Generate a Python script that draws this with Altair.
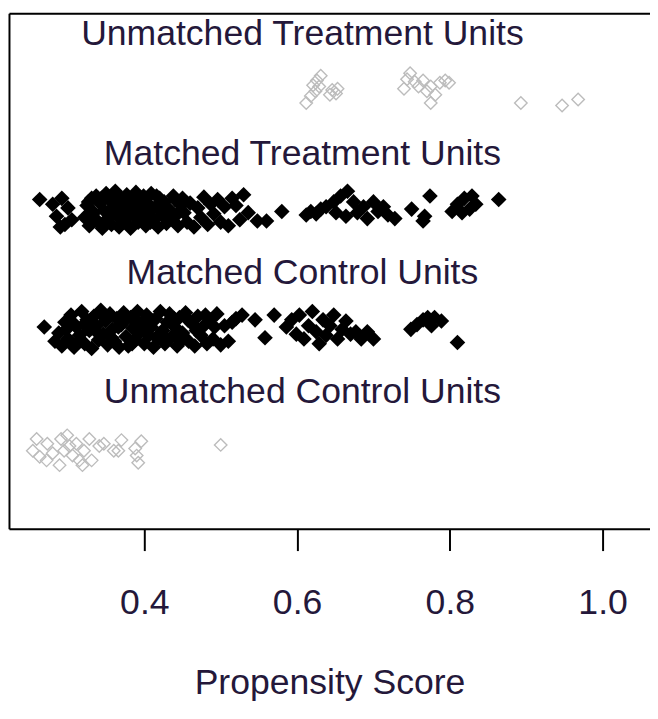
import altair as alt
import pandas as pd

# ---- data (propensity score, vertical jitter) ----
ut_ps = [0.631, 0.626, 0.629, 0.624, 0.618, 0.612, 0.646, 0.651, 0.653, 0.643, 0.621,
         0.748, 0.754, 0.740, 0.765, 0.775, 0.787, 0.794, 0.799, 0.781, 0.775, 0.770, 0.759, 0.744,
         0.893, 0.947, 0.968]
ut_jit = [0.13, 0.09, 0.04, 0.00, -0.04, -0.10, 0.01, -0.02, 0.02, -0.03, 0.05,
          0.15, 0.08, 0.02, 0.09, 0.04, 0.07, 0.09, 0.07, -0.03, -0.10, 0.00, 0.04, 0.10,
          -0.10, -0.12, -0.07]

mt_ps = [0.263, 0.280, 0.285, 0.292, 0.296, 0.300, 0.305, 0.290,
         0.322, 0.325, 0.328, 0.331, 0.334, 0.337, 0.340, 0.342, 0.345, 0.347,
         0.350, 0.352, 0.355, 0.357, 0.360, 0.362, 0.364, 0.367, 0.369, 0.372,
         0.374, 0.377, 0.379, 0.382, 0.384, 0.387, 0.389, 0.392, 0.394, 0.397,
         0.399, 0.402, 0.404, 0.407, 0.409, 0.412, 0.415, 0.418, 0.420, 0.423,
         0.426, 0.429, 0.432, 0.436, 0.440, 0.444, 0.448, 0.452,
         0.327, 0.336, 0.344, 0.353, 0.359, 0.366, 0.371, 0.378, 0.386, 0.393,
         0.401, 0.408, 0.416, 0.422, 0.428, 0.438, 0.442, 0.450,
         0.456, 0.460, 0.465, 0.470, 0.474, 0.478, 0.483, 0.487, 0.491, 0.496,
         0.500, 0.505, 0.510, 0.515, 0.520, 0.525, 0.530, 0.536, 0.548,
         0.560, 0.580,
         0.612, 0.625, 0.631, 0.638, 0.648, 0.657, 0.666, 0.674, 0.679, 0.687,
         0.692, 0.700, 0.706, 0.713, 0.719, 0.728, 0.651, 0.664, 0.618,
         0.750, 0.765, 0.774, 0.767,
         0.803, 0.810, 0.819, 0.829, 0.834, 0.816, 0.826, 0.864]
mt_jit = [0.09, 0.05, -0.05, 0.10, -0.12, 0.02, -0.08, -0.14,
          -0.06, 0.04, -0.13, 0.10, -0.02, 0.12, -0.10, 0.06, -0.15, 0.00,
          0.14, -0.07, 0.08, -0.12, 0.03, 0.16, -0.04, -0.14, 0.10, 0.00,
          -0.09, 0.13, 0.05, -0.15, -0.03, 0.09, 0.15, -0.10, 0.02, -0.06,
          0.12, -0.13, 0.06, -0.01, 0.14, -0.08, 0.03, -0.14, 0.10, -0.04,
          0.07, -0.11, 0.01, -0.07, 0.09, -0.13, 0.04, -0.02,
          0.07, -0.08, 0.10, -0.02, 0.11, 0.04, -0.08, -0.05, 0.03, 0.08,
          0.01, -0.10, 0.12, 0.04, -0.03, 0.12, -0.04, 0.10,
          -0.10, 0.06, -0.14, 0.02, -0.06, 0.11, -0.12, 0.05, -0.03, 0.09,
          -0.10, 0.03, -0.13, 0.10, 0.04, -0.08, 0.13, -0.02, -0.09,
          -0.09, -0.01,
          -0.04, -0.03, 0.01, 0.03, 0.07, 0.12, 0.16, 0.07, -0.02, 0.03,
          -0.07, 0.07, -0.01, 0.03, -0.04, -0.07, -0.02, -0.05, -0.01,
          0.01, -0.09, 0.12, -0.05,
          -0.01, 0.05, 0.10, 0.12, 0.05, -0.02, 0.01, 0.09]

mc_ps = [0.269,
         0.283, 0.288, 0.292, 0.296, 0.300, 0.304, 0.308, 0.311, 0.315, 0.318,
         0.322, 0.325, 0.328, 0.331, 0.334, 0.337, 0.340, 0.343, 0.346, 0.349,
         0.352, 0.355, 0.358, 0.361, 0.364, 0.367, 0.370, 0.373, 0.376, 0.379,
         0.382, 0.385, 0.388, 0.391, 0.394, 0.397, 0.400, 0.403, 0.406, 0.409,
         0.412, 0.415, 0.418, 0.421, 0.424, 0.427, 0.430, 0.433, 0.436, 0.440,
         0.443, 0.446, 0.450, 0.454, 0.458, 0.462, 0.466, 0.470, 0.474, 0.478,
         0.482, 0.486, 0.490, 0.495, 0.500, 0.505, 0.510, 0.515, 0.520, 0.528,
         0.298, 0.306, 0.313, 0.321, 0.330, 0.339, 0.348, 0.357, 0.366, 0.375,
         0.384, 0.393, 0.402, 0.411, 0.420, 0.430, 0.439, 0.448, 0.457, 0.468,
         0.480, 0.492,
         0.545, 0.558, 0.570,
         0.586, 0.593, 0.599, 0.603, 0.609, 0.615, 0.620, 0.625, 0.629, 0.634,
         0.638, 0.643, 0.648, 0.653, 0.659, 0.664, 0.670, 0.677, 0.684, 0.692, 0.700,
         0.749, 0.757, 0.765, 0.771, 0.780, 0.789, 0.776,
         0.810]
mc_jit = [0.02,
          -0.10, -0.03, -0.14, 0.06, -0.08, 0.12, -0.15, 0.02, -0.05, 0.15,
          -0.12, 0.08, -0.01, -0.16, 0.11, 0.03, -0.09, 0.16, -0.04, 0.07,
          -0.13, 0.13, 0.00, -0.10, 0.09, -0.15, 0.04, 0.14, -0.06, -0.14,
          0.10, 0.01, -0.09, 0.15, -0.03, 0.06, -0.12, 0.12, -0.05, 0.02,
          -0.15, 0.09, -0.08, 0.15, -0.01, -0.12, 0.06, 0.13, -0.06, 0.02,
          -0.14, 0.10, -0.03, 0.14, -0.10, 0.05, -0.14, 0.11, -0.05, 0.03,
          -0.12, 0.08, -0.08, 0.13, -0.13, 0.03, -0.10, 0.06, 0.09, 0.12,
          0.00, 0.06, -0.11, 0.04, 0.08, -0.03, 0.10, -0.07, 0.02, 0.08,
          -0.12, 0.05, -0.02, 0.07, -0.04, -0.09, 0.09, -0.10, 0.08, -0.01,
          0.12, 0.02,
          0.08, -0.07, 0.12,
          0.02, 0.08, -0.04, 0.12, -0.08, 0.03, 0.15, -0.02, -0.12, 0.08,
          -0.05, 0.03, 0.12, -0.08, 0.00, 0.07, -0.04, -0.02, -0.08, -0.02, -0.08,
          0.00, 0.04, 0.08, 0.10, 0.10, 0.07, 0.03,
          -0.11]

uc_ps = [0.259, 0.254, 0.263, 0.273, 0.280, 0.289, 0.291, 0.299, 0.302, 0.306,
         0.315, 0.321, 0.328, 0.331, 0.341, 0.347, 0.360, 0.370, 0.366, 0.388,
         0.390, 0.392, 0.396, 0.295, 0.272, 0.311, 0.319, 0.500]
uc_jit = [0.08, -0.02, -0.07, 0.04, -0.04, -0.14, 0.08, 0.11, 0.02, -0.06,
          -0.10, -0.02, 0.08, -0.10, 0.02, 0.04, -0.02, 0.07, -0.02, 0.00,
          -0.06, -0.12, 0.06, -0.02, -0.10, 0.04, -0.14, 0.03]

group_names = ["Unmatched Treatment Units", "Matched Treatment Units",
               "Matched Control Units", "Unmatched Control Units"]
group_rows = [4, 3, 2, 1]
label_x = 0.607
x_ticks = [0.4, 0.6, 0.8, 1.0]

rows = []
for name, row, ps, jit, matched in [
    (group_names[0], group_rows[0], ut_ps, ut_jit, False),
    (group_names[1], group_rows[1], mt_ps, mt_jit, True),
    (group_names[2], group_rows[2], mc_ps, mc_jit, True),
    (group_names[3], group_rows[3], uc_ps, uc_jit, False),
]:
    for p, j in zip(ps, jit):
        rows.append({"group": name, "pscore": p, "y": row + j, "matched": matched})
df = pd.DataFrame(rows)
labels = pd.DataFrame({"label": group_names, "y": [r + 0.5 for r in group_rows],
                       "x": [label_x] * 4})

FONT = "Liberation Sans"
TXT = "#24183a"
xscale = alt.Scale(domain=[0.2228, 1.0621], nice=False, zero=False)
yscale = alt.Scale(domain=[0.325, 4.654], nice=False, zero=False)

matched = alt.Chart(df).transform_filter("datum.matched").mark_point(
    shape="diamond", filled=True, color="black", size=250, opacity=1, strokeWidth=0
).encode(
    x=alt.X("pscore:Q", scale=xscale,
            axis=alt.Axis(title="Propensity Score", values=x_ticks, format=".1f",
                          grid=False, domain=True, domainColor="black", domainWidth=2,
                          ticks=True, tickColor="black", tickWidth=2, tickSize=22,
                          labelFontSize=36, labelFont=FONT, labelColor=TXT,
                          labelPadding=36, labelFlush=False,
                          titleFontSize=36, titleFont=FONT, titleFontWeight="normal",
                          titleColor=TXT, titlePadding=46)),
    y=alt.Y("y:Q", scale=yscale,
            axis=alt.Axis(title=None, labels=False, ticks=False, grid=False,
                          domain=True, domainColor="black", domainWidth=2)),
)

unmatched = alt.Chart(df).transform_filter("!datum.matched").mark_point(
    shape="diamond", filled=False, stroke="#bcbcbc", strokeWidth=1.4, size=160, opacity=1
).encode(
    x=alt.X("pscore:Q", scale=xscale, axis=None),
    y=alt.Y("y:Q", scale=yscale, axis=None),
)

text = alt.Chart(labels).mark_text(
    font=FONT, fontSize=36, color=TXT, align="center", baseline="middle", dy=3
).encode(
    x=alt.X("x:Q", scale=xscale,
            axis=alt.Axis(orient="top", title=None, labels=False, ticks=False, grid=False,
                          domain=True, domainColor="black", domainWidth=2)),
    y=alt.Y("y:Q", scale=yscale, axis=None),
    text="label:N",
)

chart = alt.layer(unmatched, matched, text).resolve_axis(
    x="independent", y="independent"
).properties(
    width=649, height=522,
    padding={"left": 1, "top": 1, "right": 0, "bottom": 0},
).configure_view(stroke=None).configure(background="white")

chart.save("out.html", embed_options={"renderer": "svg", "actions": False})
